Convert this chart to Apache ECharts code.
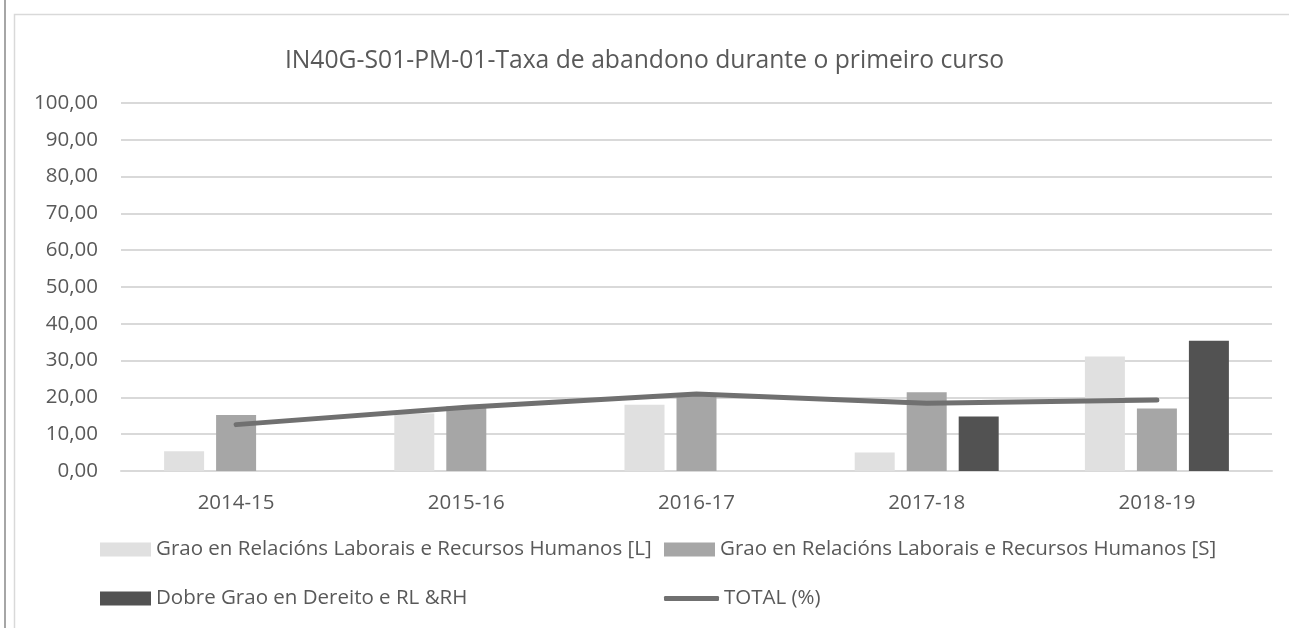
<!DOCTYPE html>
<html><head><meta charset="utf-8">
<script src="https://cdn.jsdelivr.net/npm/echarts@6/dist/echarts.min.js"></script>
<style>html,body{margin:0;padding:0;background:#fff}#c{width:1289px;height:628px}</style>
</head><body><div id="c"></div>
<script>
const categories = ['2014-15','2015-16','2016-17','2017-18','2018-19'];
const seriesNames = ['Grao en Relacións Laborais e Recursos Humanos [L]','Grao en Relacións Laborais e Recursos Humanos [S]','Dobre Grao en Dereito e RL &RH','TOTAL (%)'];
const valuesL = [5.4, 15.6, 18.0, 5.0, 31.1];
const valuesS = [15.2, 17.6, 20.5, 21.4, 17.0];
const valuesD = [null, null, null, 14.8, 35.4];
const valuesTotal = [12.6, 17.3, 20.9, 18.4, 19.3];
const yTicks = {min: 0, max: 100, interval: 10};

const font = '"Open Sans", "Noto Sans", sans-serif';
const txt = '#595959';
const fs = 20.5;
const chart = echarts.init(document.getElementById('c'));
function leg(name, left, top, extra) {
  return Object.assign({
    data: [name], left: left, top: top, icon: 'rect', itemWidth: 51, itemHeight: 14, itemGap: 0,
    textStyle: {color: txt, fontSize: fs, fontFamily: font},
    padding: 0, selectedMode: false
  }, extra || {});
}
chart.setOption({
  animation: false,
  backgroundColor: '#fff',
  title: {text: 'IN40G-S01-PM-01-Taxa de abandono durante o primeiro curso', left: 'center', top: 43,
    textStyle: {color: txt, fontSize: 24.7, fontWeight: 'normal', fontFamily: font}},
  graphic: [
    {type: 'rect', shape: {x: 14.5, y: 14.5, width: 1290, height: 640}, style: {fill: 'none', stroke: '#d9d9d9', lineWidth: 1.5}, silent: true},
    {type: 'line', shape: {x1: 5, y1: 0, x2: 5, y2: 628}, style: {stroke: '#a6a6a6', lineWidth: 2}, silent: true}
  ],
  grid: {left: 121, right: 17, top: 103, bottom: 157, containLabel: false},
  legend: [
    leg(seriesNames[0], 100, 539),
    leg(seriesNames[1], 664, 539),
    leg(seriesNames[2], 100, 588),
    leg(seriesNames[3], 664, 588, {icon: 'roundRect', itemWidth: 55, itemHeight: 5, itemStyle: {color: '#707070'}})
  ],
  xAxis: {type: 'category', data: categories,
    axisLine: {lineStyle: {color: '#d9d9d9', width: 2}}, axisTick: {show: false},
    axisLabel: {color: txt, fontSize: fs, fontFamily: font, margin: 22}},
  yAxis: {type: 'value', min: yTicks.min, max: yTicks.max, interval: yTicks.interval,
    axisLine: {show: false}, axisTick: {show: false},
    splitLine: {lineStyle: {color: '#d9d9d9', width: 2}},
    axisLabel: {color: txt, fontSize: fs, fontFamily: font, margin: 23,
      formatter: v => v.toFixed(2).replace('.', ',')}},
  series: [
    {name: seriesNames[0], type: 'bar', data: valuesL, barWidth: 40, barGap: '30%', itemStyle: {color: '#e0e0e0'}},
    {name: seriesNames[1], type: 'bar', data: valuesS, barWidth: 40, barGap: '30%', itemStyle: {color: '#a6a6a6'}},
    {name: seriesNames[2], type: 'bar', data: valuesD, barWidth: 40, barGap: '30%', itemStyle: {color: '#525252'}},
    {name: seriesNames[3], type: 'line', data: valuesTotal, symbol: 'none', z: 5,
      lineStyle: {color: '#707070', width: 5, cap: 'round', join: 'round'}, itemStyle: {color: '#707070'}}
  ]
});
</script></body></html>
